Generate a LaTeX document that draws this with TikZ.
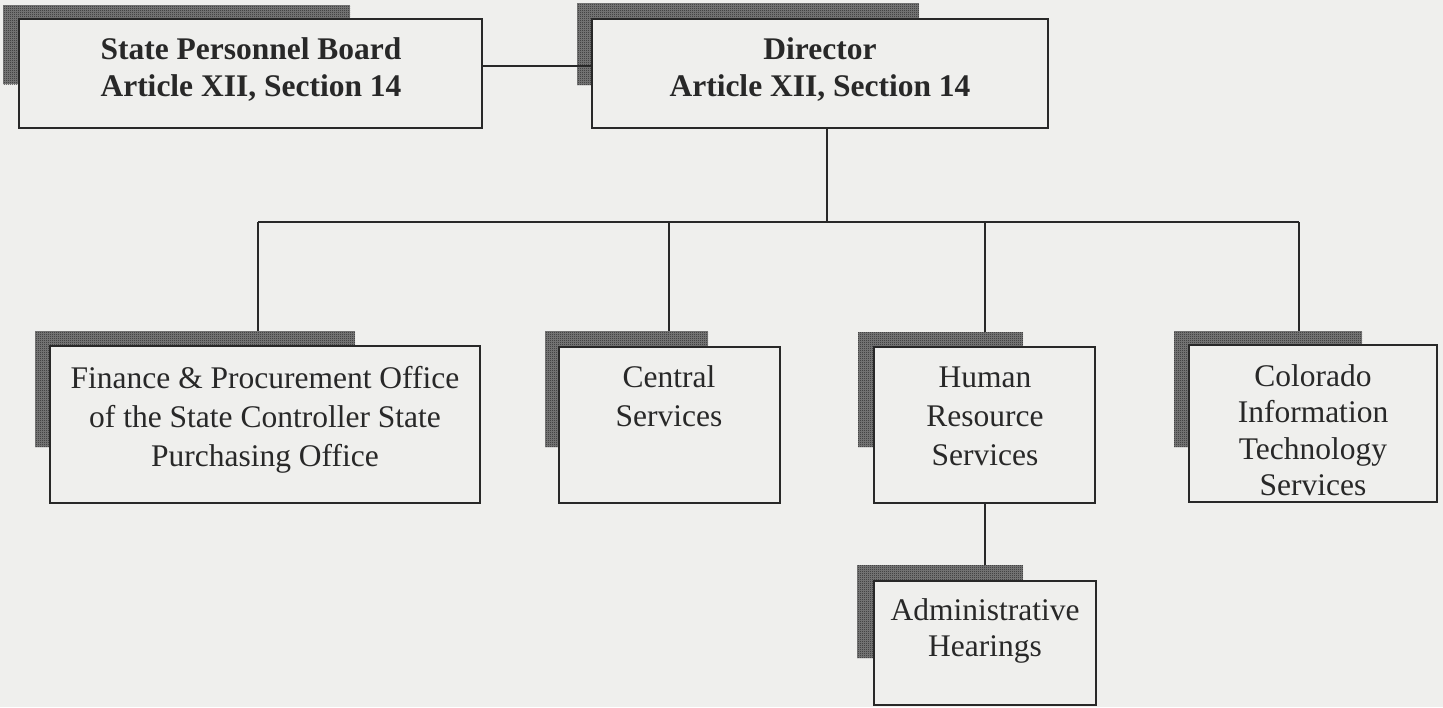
\documentclass[tikz,border=0pt]{standalone}
\usepackage{fontspec}
\setmainfont{Liberation Serif}
\usetikzlibrary{calc,patterns}
\pgfdeclarepatternformonly{finecheck}{\pgfpointorigin}{\pgfqpoint{2pt}{2pt}}{\pgfqpoint{2pt}{2pt}}{%
  \pgfpathrectangle{\pgfpointorigin}{\pgfqpoint{1pt}{1pt}}%
  \pgfpathrectangle{\pgfqpoint{1pt}{1pt}}{\pgfqpoint{1pt}{1pt}}%
  \pgfusepath{fill}}
\definecolor{bg}{RGB}{239,239,237}
\definecolor{ink}{RGB}{40,40,40}
\definecolor{shadowbase}{RGB}{125,125,125}
\begin{document}
\begin{tikzpicture}[x=1pt,y=-1pt,
  box/.style={draw=ink, line width=1.5pt, fill=bg, rectangle, inner sep=0pt, outer sep=0pt},
  shadowbox/.style={rectangle, inner sep=0pt, outer sep=0pt, anchor=north west, fill=shadowbase,
    postaction={pattern=finecheck, pattern color=black!85}},
  lbl/.style={text=ink, align=center, inner sep=0pt, font=\fontsize{31.5}{39}\selectfont},
  tightlbl/.style={text=ink, align=center, inner sep=0pt, font=\fontsize{31.5}{36.5}\selectfont},
  blbl/.style={text=ink, align=center, inner sep=0pt, font=\fontsize{31.5}{37}\selectfont\bfseries},
  conn/.style={draw=ink, line width=1.5pt}]
\useasboundingbox (0,0) rectangle (1443,707);
\fill[bg] (0,0) rectangle (1443,707);

% shadows
\node[shadowbox, minimum width=347pt, minimum height=79pt] (s-spb) at (3,5) {};
\node[shadowbox, minimum width=342pt, minimum height=82pt] (s-dir) at (577,3) {};
\node[shadowbox, minimum width=320pt, minimum height=116pt] (s-fin) at (35,331) {};
\node[shadowbox, minimum width=163pt, minimum height=116pt] (s-cen) at (545,331) {};
\node[shadowbox, minimum width=165pt, minimum height=115pt] (s-hr) at (858,332) {};
\node[shadowbox, minimum width=188pt, minimum height=116pt] (s-cits) at (1174,331) {};
\node[shadowbox, minimum width=166pt, minimum height=93pt] (s-adm) at (857,565) {};

% boxes
\node[box, minimum width=463pt, minimum height=109pt] (spb) at (250.5,73.5) {};
\node[box, minimum width=456pt, minimum height=109pt] (dir) at (820,73.5) {};
\node[box, minimum width=430pt, minimum height=157pt] (fin) at (265,424.5) {};
\node[box, minimum width=221pt, minimum height=156pt] (cen) at (669.5,425) {};
\node[box, minimum width=221pt, minimum height=156pt] (hr) at (984.5,425) {};
\node[box, minimum width=248pt, minimum height=157pt] (cits) at (1313,423.5) {};
\node[box, minimum width=222pt, minimum height=124pt] (adm) at (985,643) {};

% connectors
\coordinate (link) at (0,66);
\coordinate (dirdrop) at (827,0);
\coordinate (busL) at (258,222);
\coordinate (busR) at (1299,222);
\coordinate (cdrop) at (669,222);
\coordinate (hdrop) at (985,222);
\draw[conn] (spb.east |- link) -- (dir.west |- link);
\draw[conn] (dir.south -| dirdrop) -- (busL -| dirdrop);
\draw[conn] (busL) -- (busR);
\draw[conn] (busL) -- (busL |- s-fin.north);
\draw[conn] (cdrop) -- (cdrop |- s-cen.north);
\draw[conn] (hdrop) -- (hdrop |- s-hr.north);
\draw[conn] (busR) -- (busR |- s-cits.north);
\draw[conn] (hdrop |- hr.south) -- (hdrop |- s-adm.north);

% labels
\node[blbl] (t-spb) at (251,70) {State Personnel Board\\Article XII, Section 14};
\node[blbl] (t-dir) at (820,70) {Director\\Article XII, Section 14};
\node[lbl] (t-fin) at (265,420) {Finance \& Procurement Office\\of the State Controller State\\Purchasing Office};
\node[lbl] (t-cen) at (669,396) {Central\\Services};
\node[lbl] (t-hr) at (985,416) {Human\\Resource\\Services};
\node[tightlbl] (t-cits) at (1313,430) {Colorado\\Information\\Technology\\Services};
\node[tightlbl] (t-adm) at (985,631) {Administrative\\Hearings};
\end{tikzpicture}
\end{document}
